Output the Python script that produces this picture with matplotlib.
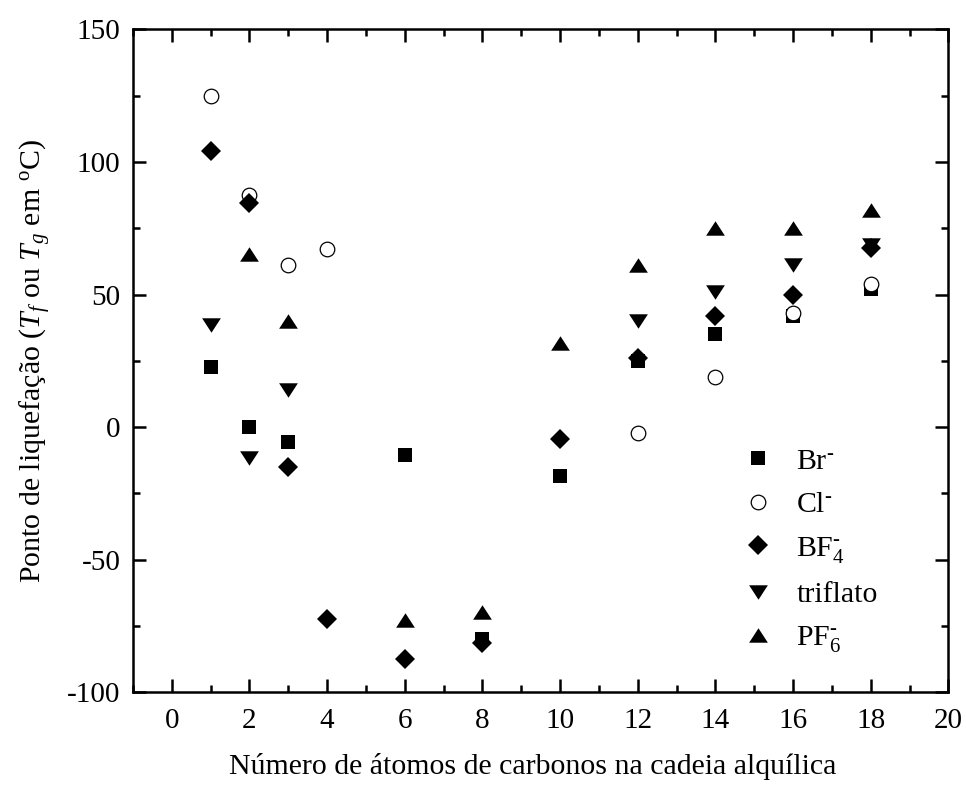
import matplotlib
matplotlib.use("Agg")
import matplotlib.pyplot as plt
from matplotlib.path import Path

plt.rcParams['font.family'] = ['Liberation Serif', 'DejaVu Serif']
plt.rcParams['mathtext.fontset'] = 'custom'
plt.rcParams['mathtext.rm'] = 'Liberation Serif'
plt.rcParams['mathtext.it'] = 'Liberation Serif:italic'
plt.rcParams['mathtext.bf'] = 'Liberation Serif:bold'
plt.rcParams['axes.unicode_minus'] = False

# Melting / glass transition points vs. alkyl chain length
br_x = [1, 2, 3, 6, 8, 10, 12, 14, 16, 18]
br_y = [22.6, 0, -5.7, -10.5, -80, -18.3, 25, 35, 42, 52]

cl_x = [1, 2, 3, 4, 12, 14, 16, 18]
cl_y = [125, 87.5, 61, 67, -2.3, 19, 43, 54]

bf4_x = [1, 2, 3, 4, 6, 8, 10, 12, 14, 16, 18]
bf4_y = [104.3, 84.5, -14.9, -72.5, -87.3, -81.4, -4.6, 26, 42, 50, 67.7]

trif_x = [1, 2, 3, 12, 14, 16, 18]
trif_y = [38.6, -11.8, 14, 40, 50.8, 61, 68.5]

pf6_x = [2, 3, 6, 8, 10, 12, 14, 16, 18]
pf6_y = [65.4, 40, -72.8, -69.7, 31.7, 61.3, 75, 75, 82]

labels = [r'Br$^{\text{-}}$', r'Cl$^{\text{-}}$',
          r'BF$_{\mathregular{4}}^{\text{-}}$', 'triflato',
          r'PF$_{\mathregular{6}}^{\text{-}}$']

# wide, flat triangles
tri_up = Path([(-1, -0.77), (1, -0.77), (0, 0.77), (-1, -0.77)],
              [Path.MOVETO, Path.LINETO, Path.LINETO, Path.CLOSEPOLY])
tri_dn = Path([(-1, 0.77), (1, 0.77), (0, -0.77), (-1, 0.77)],
              [Path.MOVETO, Path.LINETO, Path.LINETO, Path.CLOSEPOLY])

fig = plt.figure(figsize=(9.66, 7.87), dpi=100)
ax = fig.add_axes([0.1376, 0.1203, 0.8442, 0.8424])

ax.plot(br_x, br_y, ls='none', marker='s', ms=10, mfc='black', mec='black', mew=0, label=labels[0])
ax.plot(cl_x, cl_y, ls='none', marker='o', ms=10.5, mfc='white', mec='black', mew=0.9, label=labels[1])
ax.plot(bf4_x, bf4_y, ls='none', marker='D', ms=10, mfc='black', mec='black', mew=0, label=labels[2])
ax.plot(trif_x, trif_y, ls='none', marker=tri_dn, ms=13.5, mfc='black', mec='black', mew=0, label=labels[3])
ax.plot(pf6_x, pf6_y, ls='none', marker=tri_up, ms=13.5, mfc='black', mec='black', mew=0, label=labels[4])

ax.set_xlim(-1, 20)
ax.set_ylim(-100, 150)
ax.set_xticks(range(0, 21, 2))
ax.set_xticks(range(-1, 20, 2), minor=True)
ax.set_yticks(range(-100, 151, 50))
ax.set_yticks(range(-75, 150, 50), minor=True)

for s in ax.spines.values():
    s.set_linewidth(1.8)
ax.tick_params(which='both', direction='in', top=True, right=True, width=1.8,
               labelsize=21)
ax.tick_params(which='major', length=9.5)
ax.tick_params(which='minor', length=5)
ax.tick_params(axis='x', pad=11)
ax.tick_params(axis='y', pad=9)

ax.set_xlabel('Número de átomos de carbonos na cadeia alquílica', fontsize=21.5)
ax.xaxis.set_label_coords(0.49, -0.092)
ax.set_ylabel(r'Ponto de liquefação ($T_f$ ou $T_g$ em $^{\mathregular{o}}$C)', fontsize=21.5, labelpad=10)

ax.legend(loc='upper left', bbox_to_anchor=(0.722, 0.40), frameon=False,
          fontsize=21.5, handlelength=1.0, handletextpad=0.8, labelspacing=0.55,
          borderpad=0.2, numpoints=1)

fig.savefig('out.png', dpi=100)
